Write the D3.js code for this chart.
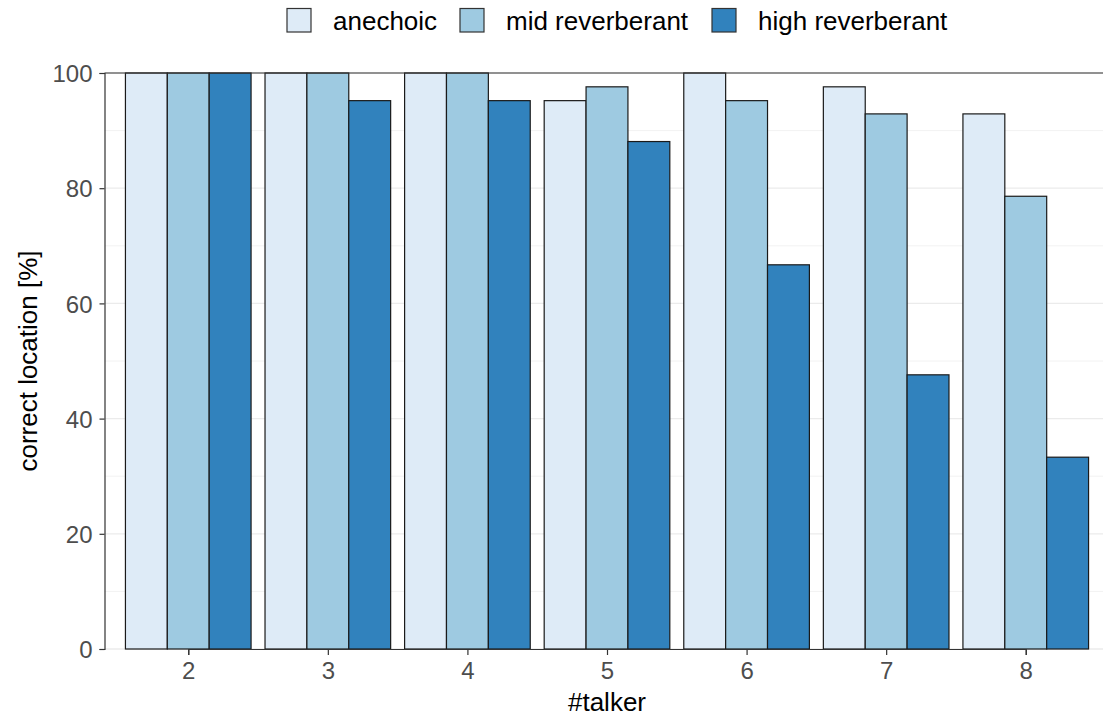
<!DOCTYPE html>
<html><head><meta charset="utf-8">
<script src="https://cdn.jsdelivr.net/npm/d3@7"></script>
<style>body{margin:0;background:#fff}svg{display:block}</style>
</head><body><svg id="c" width="1103" height="716"></svg>
<script>
const categories = ["2","3","4","5","6","7","8"];
const seriesNames = ["anechoic","mid reverberant","high reverberant"];
const anechoic = [100,100,100,95.2,100,97.6,92.9];
const midReverberant = [100,100,100,97.6,95.2,92.9,78.6];
const highReverberant = [100,95.2,95.2,88.1,66.7,47.6,33.3];
const colors = ["#DEEBF7","#9ECAE1","#3182BD"];
const yTicks = [0,20,40,60,80,100];
const yMinor = [10,30,50,70,90];

(function(){
const seriesValues = [anechoic, midReverberant, highReverberant];
const svg = d3.select("#c");
const font = "Liberation Sans, Arial, sans-serif";
const pLeft = 104.5, pRight = 1109.5, pTop = 73, pBottom = 649;

const y = d3.scaleLinear().domain([0,100]).range([pBottom, pTop]);
const step = (pRight-pLeft)/(categories.length - 1 + 1.2);
const x = d3.scalePoint().domain(categories).range([pLeft + 0.6*step, pRight - 0.6*step]);
const groupW = 0.9*step;
const xs = d3.scaleBand().domain(seriesNames).range([-groupW/2, groupW/2]).padding(0);

const g = svg.append("g");
g.selectAll(".minor").data(yMinor).join("line")
  .attr("x1", pLeft).attr("x2", 1103).attr("y1", d=>y(d)).attr("y2", d=>y(d))
  .attr("stroke","#F2F2F2").attr("stroke-width",1);
g.selectAll(".major").data(yTicks).join("line")
  .attr("x1", pLeft).attr("x2", 1103).attr("y1", d=>y(d)).attr("y2", d=>y(d))
  .attr("stroke","#EBEBEB").attr("stroke-width",1.3);

const data = [];
categories.forEach((c,i)=>seriesNames.forEach((s,j)=>data.push({c, s, v: seriesValues[j][i], col: colors[j]})));
g.selectAll("rect.bar").data(data).join("rect")
  .attr("x", d=>x(d.c)+xs(d.s))
  .attr("width", xs.bandwidth())
  .attr("y", d=>y(d.v))
  .attr("height", d=>y(0)-y(d.v))
  .attr("fill", d=>d.col)
  .attr("stroke","#1a1a1a").attr("stroke-width",1.2);

g.append("line").attr("x1",pLeft).attr("x2",1103).attr("y1",pTop).attr("y2",pTop).attr("stroke","#333").attr("stroke-width",1.1);

const yAxis = svg.append("g").attr("transform",`translate(${pLeft},0)`)
  .call(d3.axisLeft(y).tickValues(yTicks).tickSize(5).tickPadding(7));
const xAxis = svg.append("g").attr("transform",`translate(0,${pBottom})`)
  .call(d3.axisBottom(x).tickSize(6).tickPadding(5));
[yAxis,xAxis].forEach(a=>{
  a.select(".domain").attr("stroke","#333").attr("stroke-width",1.2);
  a.selectAll(".tick line").attr("stroke","#333").attr("stroke-width",1.2);
  a.selectAll(".tick text").attr("fill","#4D4D4D").style("font-family",font).style("font-size","24px");
});
yAxis.selectAll(".tick text").attr("dy","0.36em");
xAxis.selectAll(".tick text").attr("dy","0.8em");

svg.append("text").attr("x",(pLeft+pRight)/2).attr("y",711).attr("text-anchor","middle")
  .style("font-family",font).style("font-size","26px").attr("fill","#000").text("#talker");
svg.append("text").attr("transform",`translate(37,${(pTop+pBottom)/2}) rotate(-90)`).attr("text-anchor","middle")
  .style("font-family",font).style("font-size","26px").attr("fill","#000").text("correct location [%]");

const legX = [287, 460, 712];
const leg = svg.append("g");
seriesNames.forEach((s,i)=>{
  leg.append("rect").attr("x",legX[i]).attr("y",8.5).attr("width",24).attr("height",23.5)
    .attr("fill",colors[i]).attr("stroke","#333").attr("stroke-width",1.2);
  leg.append("text").attr("x",legX[i]+46).attr("y",30).style("font-family",font).style("font-size","26px")
    .attr("fill","#000").text(s);
});
})();
</script></body></html>
